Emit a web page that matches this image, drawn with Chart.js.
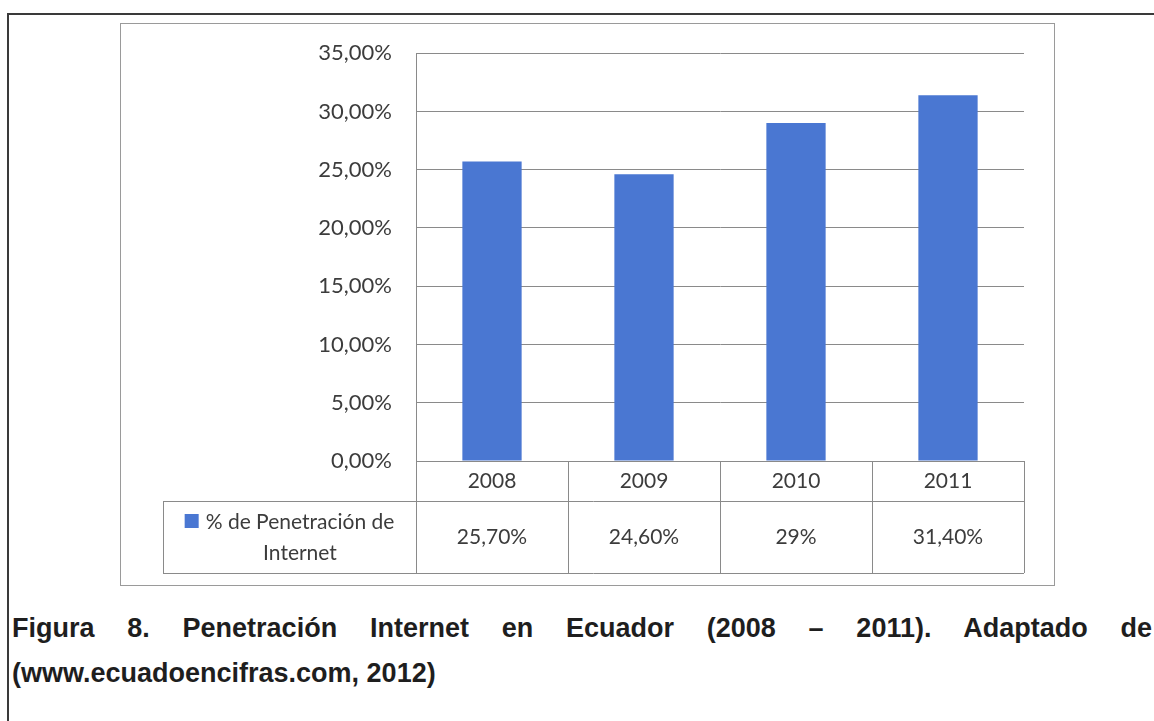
<!DOCTYPE html>
<html>
<head>
<meta charset="utf-8">
<script src="https://cdn.jsdelivr.net/npm/chart.js@4.4.1/dist/chart.umd.min.js"></script>
<style>
  html, body { margin: 0; padding: 0; background: #fff; width: 1154px; height: 721px; overflow: hidden; }
  #frame { position: absolute; left: 7px; top: 13px; width: 1160px; height: 720px;
           border-top: 2px solid #3a3a3a; border-left: 2px solid #3a3a3a; }
  #box { position: absolute; left: 120px; top: 23px; width: 933px; height: 561px;
         border: 1px solid #9a9a9a; background: #fff; overflow: hidden; }
  #box canvas { display: block; margin-top: -8px; }
  .cap { position: absolute; left: 12px; width: 1140px; white-space: nowrap;
         font-family: "Liberation Sans", Arial, sans-serif; font-weight: bold;
         font-size: 27px; line-height: 32px; color: #1e1e1e; }
  #cap1 { top: 612px; text-align: justify; text-align-last: justify; white-space: normal; }
  #cap2 { top: 657px; }
</style>
</head>
<body>
<div id="frame"></div>
<div id="box"><canvas id="c" width="933" height="569"></canvas></div>
<div class="cap" id="cap1">Figura 8. Penetración Internet en Ecuador (2008 – 2011). Adaptado de</div>
<div class="cap" id="cap2">(www.ecuadoencifras.com, 2012)</div>
<script>
// Años y porcentaje de penetración de Internet
const years = ['2008', '2009', '2010', '2011'];
const penetration = [25.7, 24.6, 29, 31.4];
const seriesName = ['% de Penetración de', 'Internet'];
const yMax = 35;
const yStep = 5;

const FONT = 'Lato, "Open Sans", sans-serif';
const TEXT = '#3c3c3c';
const LINE = '#8a8a8a';
const BLUE = '#4a77d2';

function pct(v, fixed) {
  const s = fixed || !Number.isInteger(v) ? v.toFixed(2) : String(v);
  return s.replace('.', ',') + '%';
}

// Tabla de datos debajo del gráfico, alineada con la escala de categorías
const dataTable = {
  id: 'dataTable',
  afterDraw(chart) {
    const ctx = chart.ctx;
    const xs = chart.scales.x;
    const area = chart.chartArea;
    const half = (xs.getPixelForValue(1) - xs.getPixelForValue(0)) / 2;
    const left = xs.getPixelForValue(0) - half;
    const right = xs.getPixelForValue(years.length - 1) + half;
    const r0 = area.bottom, r1 = r0 + 40, r2 = r0 + 112;
    const legendLeft = 42;

    ctx.save();
    ctx.strokeStyle = LINE;
    ctx.lineWidth = 1;
    ctx.beginPath();
    // horizontal rules
    ctx.moveTo(left, r0 + 0.5); ctx.lineTo(right, r0 + 0.5);
    ctx.moveTo(legendLeft, r1 + 0.5); ctx.lineTo(right, r1 + 0.5);
    ctx.moveTo(legendLeft, r2 + 0.5); ctx.lineTo(right, r2 + 0.5);
    // vertical rules
    ctx.moveTo(legendLeft + 0.5, r1); ctx.lineTo(legendLeft + 0.5, r2);
    for (let i = 0; i <= years.length; i++) {
      const x = Math.round(left + i * half * 2) + 0.5;
      ctx.moveTo(x, r0); ctx.lineTo(x, r2);
    }
    ctx.stroke();

    // values row
    ctx.fillStyle = TEXT;
    ctx.font = '21px ' + FONT;
    ctx.textAlign = 'center';
    ctx.textBaseline = 'middle';
    const vy = (r1 + r2) / 2;
    penetration.forEach((v, i) => ctx.fillText(pct(v, false), xs.getPixelForValue(i), vy));

    // legend cell
    const cx = 179;
    ctx.fillText(seriesName[0], cx, r1 + 21);
    ctx.fillText(seriesName[1], cx, r1 + 52);
    const w0 = ctx.measureText(seriesName[0]).width;
    ctx.fillStyle = BLUE;
    ctx.fillRect(cx - w0 / 2 - 21, r1 + 13, 14, 14);
    ctx.restore();
  }
};

const ctx = document.getElementById('c').getContext('2d');

new Chart(ctx, {
  type: 'bar',
  data: {
    labels: years,
    datasets: [{
      label: seriesName.join(' '),
      data: penetration,
      backgroundColor(c) {
        const el = c.element;
        if (!el || el.x === undefined || !el.width) return BLUE;
        const g = c.chart.ctx.createLinearGradient(el.x - el.width / 2, 0, el.x + el.width / 2, 0);
        g.addColorStop(0, '#3f6ac6');
        g.addColorStop(0.5, '#5282dc');
        g.addColorStop(1, '#3f6ac6');
        return g;
      },
      borderWidth: 0,
      categoryPercentage: 1,
      barPercentage: 0.39
    }]
  },
  options: {
    responsive: false,
    animation: false,
    layout: { padding: { left: 0, right: 30, top: 12, bottom: 0 } },
    plugins: { legend: { display: false }, tooltip: { enabled: false } },
    scales: {
      x: {
        grid: { display: false, drawTicks: false },
        border: { display: true, color: LINE },
        ticks: { color: TEXT, font: { family: FONT, size: 21 }, padding: 8 },
        afterFit(s) { s.height = 124; }
      },
      y: {
        min: 0,
        max: yMax,
        grid: { color: LINE, lineWidth: 1, drawTicks: false },
        border: { display: true, color: LINE },
        ticks: {
          stepSize: yStep,
          color: TEXT,
          font: { family: FONT, size: 22 },
          padding: 24,
          callback: v => pct(v, true)
        },
        afterFit(s) { s.width = 295; }
      }
    }
  },
  plugins: [dataTable]
});
</script>
</body>
</html>
